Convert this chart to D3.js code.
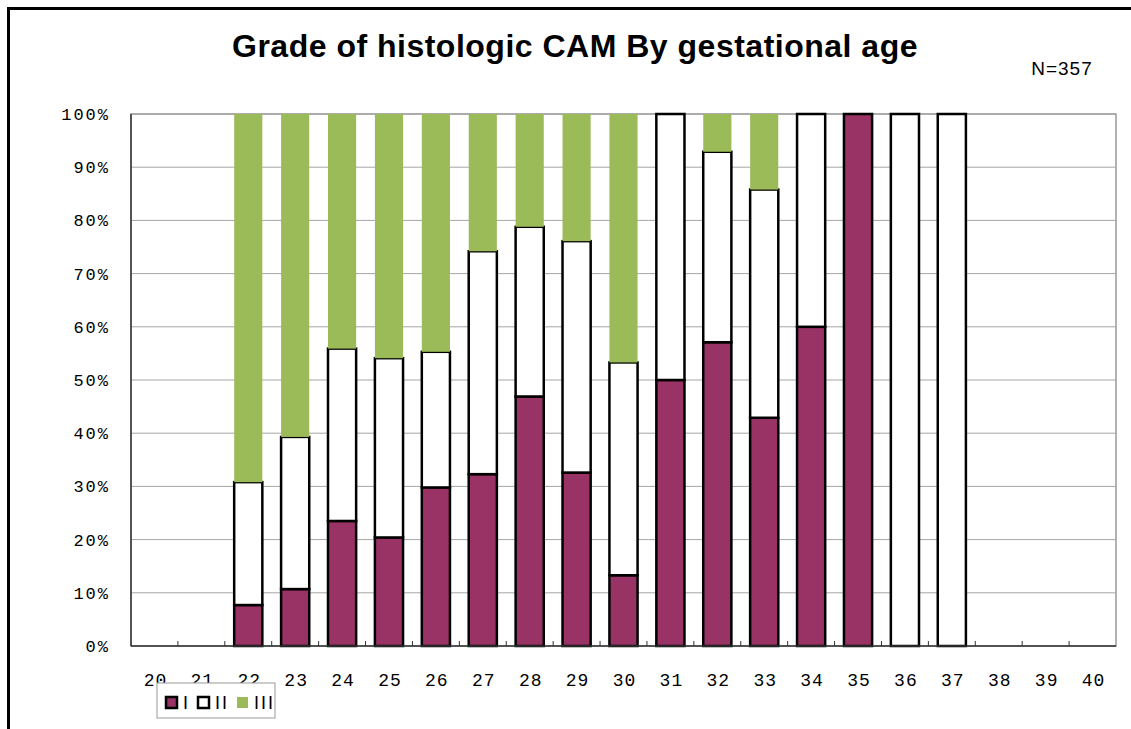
<!DOCTYPE html>
<html>
<head>
<meta charset="UTF-8">
<script src="https://d3js.org/d3.v7.min.js"></script>
<style>
  * { margin: 0; padding: 0; box-sizing: border-box; }
  body { background: #fff; }
</style>
</head>
<body>
<div id="chart"></div>
<script>
const weeks = ["20","21","22","23","24","25","26","27","28","29","30","31","32","33","34","35","36","37","38","39","40"];
// share of each grade per week (percent)
const gradeI   = [0, 0, 7.7, 10.7, 23.5, 20.4, 29.8, 32.3, 46.9, 32.6, 13.3, 50.0, 57.1, 42.9, 60.0, 100, 0, 0, 0, 0, 0];
const gradeII  = [0, 0, 23.1, 28.6, 32.4, 33.7, 25.5, 41.9, 31.9, 43.5, 40.0, 50.0, 35.8, 42.9, 40.0, 0, 100, 100, 0, 0, 0];
const gradeIII = [0, 0, 69.2, 60.7, 44.1, 45.9, 44.7, 25.8, 21.2, 23.9, 46.7, 0, 7.1, 14.2, 0, 0, 0, 0, 0, 0, 0];
const yTicks = [0, 10, 20, 30, 40, 50, 60, 70, 80, 90, 100];
const series = [
  {key: "I", values: gradeI, fill: "#993366", stroke: "#000"},
  {key: "II", values: gradeII, fill: "#ffffff", stroke: "#000"},
  {key: "III", values: gradeIII, fill: "#9bbb59", stroke: "none"}
];

const W = 1131, H = 729;
const plot = {left: 131, right: 1116, top: 114, bottom: 646};
const monoFont = "'Liberation Mono', 'DejaVu Sans Mono', monospace";

const svg = d3.select("#chart").append("svg")
  .attr("width", W).attr("height", H);

// outer frame (left and top edges visible)
svg.append("path")
  .attr("d", `M8.5,${H} L8.5,8.5 L${W},8.5`)
  .attr("fill", "none").attr("stroke", "#000").attr("stroke-width", 3);

const x = d3.scaleBand().domain(weeks).range([plot.left, plot.right]).paddingInner(0.4).paddingOuter(0.2);
const xb = d3.scaleBand().domain(weeks).range([plot.left, plot.right]);
const y = d3.scaleLinear().domain([0, 100]).range([plot.bottom, plot.top]);

// plot background + gridlines
svg.append("rect")
  .attr("x", plot.left).attr("y", plot.top)
  .attr("width", plot.right - plot.left).attr("height", plot.bottom - plot.top)
  .attr("fill", "#fff").attr("stroke", "#999").attr("stroke-width", 1.5);

svg.append("g")
  .selectAll("line")
  .data(yTicks.filter(t => t > 0))
  .enter().append("line")
  .attr("x1", plot.left).attr("x2", plot.right)
  .attr("y1", d => y(d)).attr("y2", d => y(d))
  .attr("stroke", "#a6a6a6").attr("stroke-width", 1);

// stacked bars
const stackData = weeks.map((w, i) => {
  const o = {week: w};
  series.forEach(s => o[s.key] = s.values[i]);
  return o;
});
const stacked = d3.stack().keys(series.map(s => s.key))(stackData);

stacked.forEach((layer, li) => {
  const s = series[li];
  svg.append("g")
    .selectAll("rect")
    .data(layer.filter(d => d[1] - d[0] > 0))
    .enter().append("rect")
    .attr("x", d => x(d.data.week))
    .attr("width", x.bandwidth())
    .attr("y", d => y(d[1]))
    .attr("height", d => y(d[0]) - y(d[1]))
    .attr("fill", s.fill)
    .attr("stroke", s.stroke)
    .attr("stroke-width", 2.5);
});

// axis lines
svg.append("line")
  .attr("x1", plot.left).attr("x2", plot.left)
  .attr("y1", plot.top).attr("y2", plot.bottom)
  .attr("stroke", "#333").attr("stroke-width", 1.5);
svg.append("line")
  .attr("x1", plot.left).attr("x2", plot.right)
  .attr("y1", plot.bottom).attr("y2", plot.bottom)
  .attr("stroke", "#333").attr("stroke-width", 1.5);

// x tick marks at category boundaries
svg.append("g")
  .selectAll("line")
  .data(weeks.slice(1))
  .enter().append("line")
  .attr("x1", d => xb(d)).attr("x2", d => xb(d))
  .attr("y1", plot.bottom).attr("y2", plot.bottom - 5)
  .attr("stroke", "#333").attr("stroke-width", 1);

// y labels
svg.append("g")
  .selectAll("text")
  .data(yTicks)
  .enter().append("text")
  .attr("x", 110).attr("y", d => y(d) + 6)
  .attr("text-anchor", "end")
  .style("font-family", monoFont)
  .style("font-size", "17px")
  .style("letter-spacing", "2px")
  .text(d => d + "%");

// x labels
svg.append("g")
  .selectAll("text")
  .data(weeks)
  .enter().append("text")
  .attr("x", d => xb(d) + xb.bandwidth() / 2 + 1)
  .attr("y", 686)
  .attr("text-anchor", "middle")
  .style("font-family", monoFont)
  .style("font-size", "18px")
  .style("letter-spacing", "1px")
  .text(d => d);

// title
svg.append("text")
  .attr("x", 575).attr("y", 57)
  .attr("text-anchor", "middle")
  .style("font-family", "'Liberation Sans', Arial, sans-serif")
  .style("font-weight", "bold")
  .style("font-size", "32px")
  .style("letter-spacing", "0.5px")
  .text("Grade of histologic CAM By gestational age");

svg.append("text")
  .attr("x", 1062).attr("y", 75)
  .attr("text-anchor", "middle")
  .style("font-family", "'Liberation Sans Narrow', 'Liberation Sans', sans-serif")
  .style("font-size", "19px")
  .style("letter-spacing", "1px")
  .text("N=357");

// legend
const lg = svg.append("g").attr("transform", "translate(157,683)");
lg.append("rect").attr("width", 118).attr("height", 35)
  .attr("fill", "#fff").attr("stroke", "#999").attr("stroke-width", 1);
const legX = [9, 41, 80];
series.forEach((s, i) => {
  lg.append("rect")
    .attr("x", legX[i]).attr("y", 14)
    .attr("width", 11).attr("height", 11)
    .attr("fill", s.fill)
    .attr("stroke", s.stroke).attr("stroke-width", 2.5);
  lg.append("text")
    .attr("x", legX[i] + 17).attr("y", 26)
    .style("font-family", "'Liberation Sans', Arial, sans-serif")
    .style("font-size", "18px")
    .style("letter-spacing", "2px")
    .text(s.key);
});
</script>
</body>
</html>
